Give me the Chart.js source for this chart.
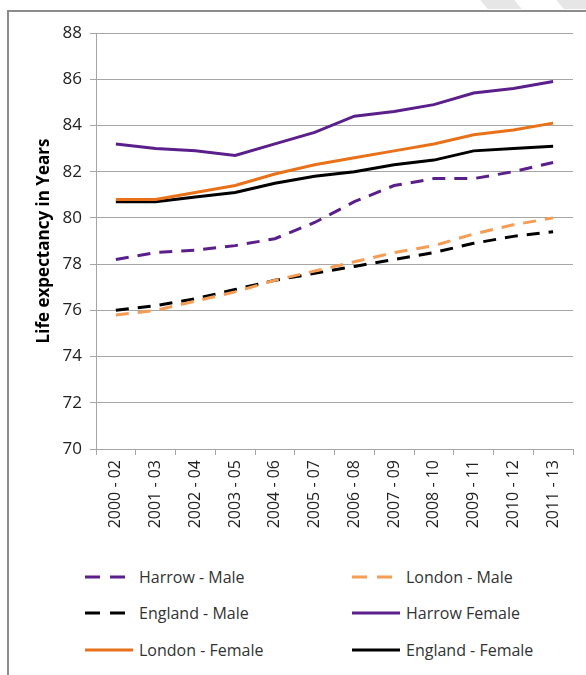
<!DOCTYPE html>
<html>
<head>
<meta charset="utf-8">
<script src="https://cdn.jsdelivr.net/npm/chart.js@4/dist/chart.umd.min.js"></script>
<style>
  body { margin: 0; background: #fff; width: 586px; height: 675px; overflow: hidden; position: relative; }
  .rahmen { position: absolute; left: 7px; top: 10px; width: 590px; height: 680px; border-left: 2px solid #8c8c8c; border-top: 2px solid #8c8c8c; }
  .schraeg { position: absolute; top: 0; height: 9px; background: #e6e6e6; transform: skewX(40deg); }
  #grafik { position: absolute; left: 0; top: 0; }
  .lejant { position: absolute; left: 0; top: 562px; width: 586px; font-family: "Open Sans", sans-serif; font-size: 16px; color: #333; }
  .lejant .oge { position: absolute; height: 30px; display: flex; align-items: center; white-space: nowrap; }
  .lejant canvas { margin-right: 6px; }
</style>
</head>
<body>
<div class="schraeg" style="left:484px;width:34px"></div>
<div class="schraeg" style="left:560px;width:30px"></div>
<div class="rahmen"></div>
<canvas id="grafik" width="586" height="560"></canvas>
<div class="lejant" id="lejant"></div>
<script>
// kategoriler ve seriler
var donemler = ["2000 - 02","2001 - 03","2002 - 04","2003 - 05","2004 - 06","2005 - 07","2006 - 08","2007 - 09","2008 - 10","2009 - 11","2010 - 12","2011 - 13"];
var harrowErkek  = [78.2, 78.5, 78.6, 78.8, 79.1, 79.8, 80.7, 81.4, 81.7, 81.7, 82.0, 82.4];
var londraErkek  = [75.8, 76.0, 76.4, 76.8, 77.3, 77.7, 78.1, 78.5, 78.8, 79.3, 79.7, 80.0];
var ingiltereErkek = [76.0, 76.2, 76.5, 76.9, 77.3, 77.6, 77.9, 78.2, 78.5, 78.9, 79.2, 79.4];
var harrowKadin  = [83.2, 83.0, 82.9, 82.7, 83.2, 83.7, 84.4, 84.6, 84.9, 85.4, 85.6, 85.9];
var londraKadin  = [80.8, 80.8, 81.1, 81.4, 81.9, 82.3, 82.6, 82.9, 83.2, 83.6, 83.8, 84.1];
var ingiltereKadin = [80.7, 80.7, 80.9, 81.1, 81.5, 81.8, 82.0, 82.3, 82.5, 82.9, 83.0, 83.1];
var yEksenMin = 70, yEksenMax = 88, yAdim = 2;

var kesik = [13, 9];
var veriSetleri = [
  {label: "Harrow - Male", data: harrowErkek, borderColor: "#5b1f8c", borderDash: kesik},
  {label: "London - Male", data: londraErkek, borderColor: "#f59c55", borderDash: kesik},
  {label: "England - Male", data: ingiltereErkek, borderColor: "#000000", borderDash: kesik},
  {label: "Harrow Female", data: harrowKadin, borderColor: "#5b1f8c", borderDash: []},
  {label: "London - Female", data: londraKadin, borderColor: "#e8711a", borderDash: []},
  {label: "England - Female", data: ingiltereKadin, borderColor: "#000000", borderDash: []}
];
veriSetleri.forEach(function (v) {
  v.borderWidth = 3;
  v.fill = false;
  v.pointRadius = 0;
  v.tension = 0;
  v.backgroundColor = v.borderColor;
});

var yaziTipi = "'Open Sans', sans-serif";
var cizgiRengi = "#a6a6a6";

var ctx = document.getElementById("grafik");
var grafik = new Chart(ctx, {
  type: 'line',
  data: { labels: donemler, datasets: veriSetleri },
  options: {
    responsive: false,
    animation: false,
    layout: { padding: { left: 34, top: 33, right: 13, bottom: 0 } },
    plugins: { legend: { display: false }, tooltip: { enabled: false } },
    scales: {
      x: {
        offset: true,
        grid: { offset: true, drawOnChartArea: false, drawTicks: true, tickLength: 6, color: cizgiRengi },
        border: { color: cizgiRengi },
        ticks: { minRotation: 90, maxRotation: 90, autoSkip: false, padding: 5, color: "#222", font: { family: yaziTipi, size: 16 } },
        afterFit: function (s) { s.height = 111; }
      },
      y: {
        min: yEksenMin,
        max: yEksenMax,
        grid: { color: cizgiRengi, tickLength: 6 },
        border: { color: cizgiRengi },
        ticks: { stepSize: yAdim, padding: 8, color: "#222", font: { family: yaziTipi, size: 17 } },
        title: { display: true, text: "Life expectancy in Years", color: "#000", padding: 0, font: { family: yaziTipi, size: 17, weight: 'bold' } },
        afterFit: function (s) { s.width = 62; }
      }
    }
  }
});

/* LEJANT */
var lejantYerleri = [[85, 0], [352, 0], [85, 36], [352, 36], [85, 73], [352, 73]];
var lejant = document.getElementById("lejant");
veriSetleri.forEach(function (v, i) {
  var oge = document.createElement("div");
  oge.className = "oge";
  oge.style.left = lejantYerleri[i][0] + "px";
  oge.style.top = lejantYerleri[i][1] + "px";
  var ornek = document.createElement("canvas");
  ornek.width = 48; ornek.height = 10;
  var c = ornek.getContext("2d");
  c.strokeStyle = v.borderColor;
  c.lineWidth = 3;
  c.setLineDash(v.borderDash.length ? [15, 10] : []);
  c.beginPath(); c.moveTo(0, 5); c.lineTo(48, 5); c.stroke();
  oge.appendChild(ornek);
  var yazi = document.createElement("span");
  yazi.textContent = v.label;
  oge.appendChild(yazi);
  lejant.appendChild(oge);
});
</script>
</body>
</html>
